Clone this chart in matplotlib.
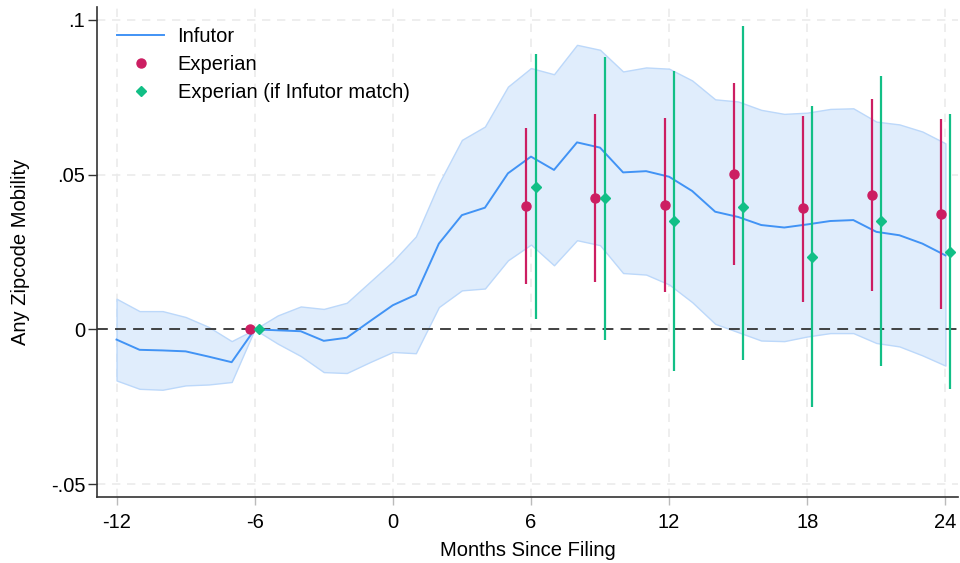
import numpy as np
import matplotlib
matplotlib.use("Agg")
import matplotlib.pyplot as plt

plt.rcParams['font.family'] = ['Liberation Sans', 'DejaVu Sans']
plt.rcParams['axes.unicode_minus'] = False

# Infutor event-study estimates by month, with 95% CI
months = list(range(-12, 25))
infutor = [-0.0033, -0.0066, -0.0068, -0.0071, -0.0088, -0.0106, 0.0,
           -0.0003, -0.0006, -0.0037, -0.0027, 0.0026, 0.0078, 0.0112,
           0.0277, 0.0369, 0.0393, 0.0504, 0.0558, 0.0515, 0.0604, 0.0587,
           0.0507, 0.0511, 0.0493, 0.0447, 0.0380, 0.0363, 0.0337, 0.0329,
           0.0339, 0.0350, 0.0353, 0.0315, 0.0304, 0.0277, 0.0239]
infutor_hi = [0.0099, 0.0059, 0.0059, 0.0040, 0.0008, -0.0038, 0.0,
              0.0045, 0.0074, 0.0066, 0.0086, 0.0153, 0.0220, 0.0300,
              0.0471, 0.0612, 0.0655, 0.0784, 0.0844, 0.0824, 0.0919, 0.0903,
              0.0833, 0.0846, 0.0842, 0.0804, 0.0743, 0.0736, 0.0709, 0.0696,
              0.0700, 0.0712, 0.0714, 0.0671, 0.0662, 0.0639, 0.0601]
infutor_lo = [-0.0165, -0.0192, -0.0195, -0.0181, -0.0178, -0.0170, 0.0,
              -0.0046, -0.0086, -0.0138, -0.0141, -0.0106, -0.0073, -0.0077,
              0.0072, 0.0126, 0.0132, 0.0223, 0.0274, 0.0207, 0.0288, 0.0272,
              0.0182, 0.0177, 0.0145, 0.0088, 0.0018, -0.0009, -0.0036, -0.0038,
              -0.0023, -0.0012, -0.0012, -0.0044, -0.0055, -0.0084, -0.0117]

# Experian quarterly estimates (plotted slightly offset left/right)
quarters = [-6, 6, 9, 12, 15, 18, 21, 24]
exp_val = [0.0, 0.0399, 0.0425, 0.0401, 0.0502, 0.0391, 0.0434, 0.0374]
exp_hi = [0.0, 0.0652, 0.0695, 0.0682, 0.0795, 0.0689, 0.0743, 0.0679]
exp_lo = [0.0, 0.0145, 0.0153, 0.0121, 0.0207, 0.0088, 0.0123, 0.0067]

match_val = [0.0, 0.0461, 0.0423, 0.0350, 0.0396, 0.0234, 0.0350, 0.0250]
match_hi = [0.0, 0.0888, 0.0879, 0.0833, 0.0979, 0.0722, 0.0819, 0.0696]
match_lo = [0.0, 0.0032, -0.0033, -0.0133, -0.0100, -0.0251, -0.0117, -0.0192]

blue = '#4193f5'
red = '#cc1e62'
green = '#12bf86'
fs = 14.5

fig = plt.figure(figsize=(9.6, 5.63), dpi=100)
ax = fig.add_axes([0.101, 0.118, 0.897, 0.870])

# grid
for t in [-12, -6, 0, 6, 12, 18, 24]:
    ax.axvline(t, color='#ebebeb', lw=1.2, ls=(0, (5, 4)), zorder=0)
for t in [-0.05, 0.05, 0.1]:
    ax.axhline(t, color='#ebebeb', lw=1.2, ls=(0, (5, 4)), zorder=0)

ax.fill_between(months, infutor_lo, infutor_hi, facecolor='#e0edfc',
                edgecolor='#bcd8fa', lw=1.0, zorder=1)
ax.plot(months, infutor, color=blue, lw=1.4, zorder=3, label='Infutor')

ax.axhline(0, color='#333333', lw=1.3, ls=(0, (6, 4)), zorder=2)

xq = np.array(quarters, dtype=float)
ci_q = xq[1:]
ax.vlines(ci_q - 0.2, exp_lo[1:], exp_hi[1:], color=red, lw=1.6, zorder=4)
ax.vlines(ci_q + 0.2, match_lo[1:], match_hi[1:], color=green, lw=1.6, zorder=4)
ax.plot(xq - 0.2, exp_val, 'o', color=red, ms=6.5, ls='none', zorder=5,
        label='Experian')
ax.plot(xq + 0.2, match_val, 'D', color=green, ms=5.5, ls='none', zorder=5,
        label='Experian (if Infutor match)')

ax.set_xlim(-12.85, 24.55)
ax.set_ylim(-0.054, 0.1042)
ax.set_xticks([-12, -6, 0, 6, 12, 18, 24])
ax.set_yticks([-0.05, 0, 0.05, 0.1])
ax.set_yticklabels(['-.05', '0', '.05', '.1'])
ax.tick_params(axis='y', labelsize=fs, length=6.5, width=1, color='#333333', pad=2)
ax.tick_params(axis='x', labelsize=fs, length=6, width=1, color='#bbbbbb', pad=6)
for s in ['top', 'right']:
    ax.spines[s].set_visible(False)
for s in ['left', 'bottom']:
    ax.spines[s].set_color('#333333')
    ax.spines[s].set_linewidth(1.2)

ax.set_xlabel('Months Since Filing', fontsize=fs, labelpad=6)
ax.set_ylabel('Any Zipcode Mobility', fontsize=fs, labelpad=15)

ax.legend(loc='upper left', frameon=False, fontsize=fs,
          handlelength=2.35, handletextpad=0.65, labelspacing=0.45,
          bbox_to_anchor=(0.0, 1.0), borderaxespad=0.6)

fig.savefig('out.png', dpi=100)
